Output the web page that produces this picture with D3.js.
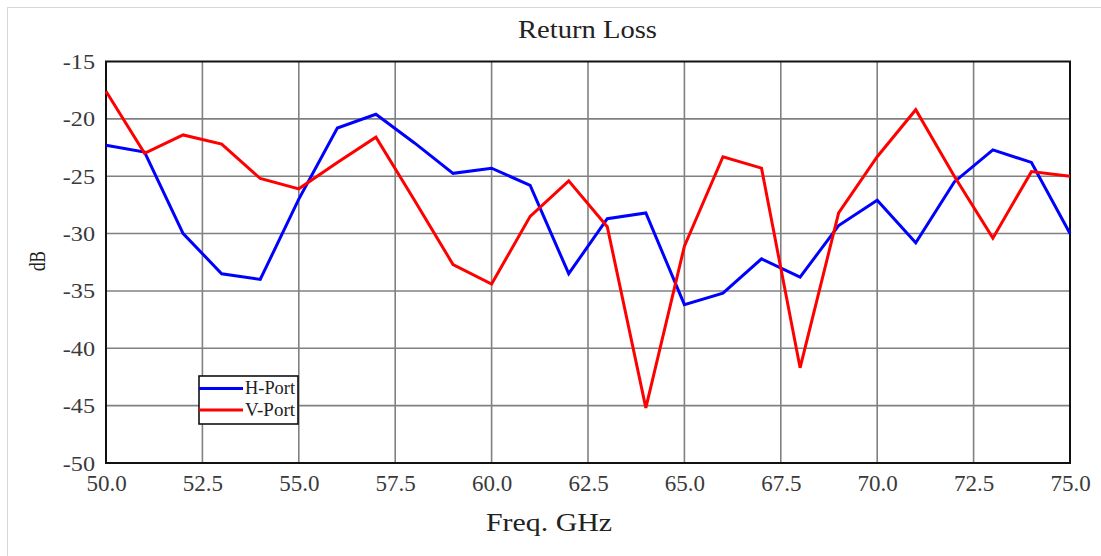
<!DOCTYPE html>
<html><head><meta charset="utf-8">
<script src="https://cdn.jsdelivr.net/npm/d3@7"></script>
<style>body{margin:0;background:#fff}svg{display:block}</style>
</head><body>
<svg id="c" width="1101" height="556"></svg>
<script>
const freqs = [50,51,52,53,54,55,56,57,58,59,60,61,62,63,64,65,66,67,68,69,70,71,72,73,74,75];
const hPort = [-22.3,-22.9,-30.0,-33.5,-34.0,-27.0,-20.8,-19.6,-22.1,-24.75,-24.3,-25.8,-33.5,-28.7,-28.2,-36.2,-35.2,-32.2,-33.8,-29.3,-27.1,-30.8,-25.5,-22.7,-23.8,-30.0];
const vPort = [-17.6,-23.0,-21.4,-22.2,-25.2,-26.1,-23.8,-21.6,-27.1,-32.7,-34.4,-28.5,-25.4,-29.4,-45.2,-31.1,-23.3,-24.3,-41.7,-28.2,-23.3,-19.2,-25.0,-30.4,-24.6,-25.0];
const xTicks = [50,52.5,55,57.5,60,62.5,65,67.5,70,72.5,75];
const yTicks = [-15,-20,-25,-30,-35,-40,-45,-50];
const seriesNames = ["H-Port","V-Port"];
const seriesColors = ["#0000ff","#ff0000"];

const svg = d3.select("#c");
const L=106, R=1070, T=61.5, B=463;
const x = d3.scaleLinear().domain([50,75]).range([L,R]);
const y = d3.scaleLinear().domain([-50,-15]).range([B,T]);
const font = "'Liberation Serif','Times New Roman',serif";

svg.append("rect").attr("x",7.5).attr("y",7.5).attr("width",1110).attr("height",560)
  .attr("fill","none").attr("stroke","#d8d8d8").attr("stroke-width",1);

// grid
svg.append("g").selectAll("line").data(xTicks.slice(1,-1)).join("line")
  .attr("x1",d=>x(d)).attr("x2",d=>x(d)).attr("y1",T).attr("y2",B)
  .attr("stroke","#808080").attr("stroke-width",1.6);
svg.append("g").selectAll("line").data(yTicks.slice(1,-1)).join("line")
  .attr("y1",d=>y(d)).attr("y2",d=>y(d)).attr("x1",L).attr("x2",R)
  .attr("stroke","#808080").attr("stroke-width",1.6);

// axes labels via d3 axes
const xAxis = svg.append("g").attr("transform",`translate(0,${B})`)
  .call(d3.axisBottom(x).tickValues(xTicks).tickFormat(d3.format(".1f")).tickSize(0));
const yAxis = svg.append("g").attr("transform",`translate(${L},0)`)
  .call(d3.axisLeft(y).tickValues(yTicks).tickFormat(d=>String(d)).tickSize(0));
[xAxis,yAxis].forEach(a=>{
  a.select(".domain").remove();
  a.attr("font-family",font);
  a.selectAll("text").attr("font-family",font).attr("fill","#3a3a3a");
});
xAxis.selectAll("text").attr("y",28).attr("dy",null).attr("font-size",23);
yAxis.selectAll("text").attr("x",-11).attr("dy",null).attr("y",7).attr("font-size",22)
  .each(function(){ const w=this.getComputedTextLength(); d3.select(this).attr("textLength",w*1.1).attr("lengthAdjust","spacingAndGlyphs"); });

// frame
svg.append("rect").attr("x",L).attr("y",T).attr("width",R-L).attr("height",B-T)
  .attr("fill","none").attr("stroke","#111").attr("stroke-width",2);

// lines
const line = d3.line().x((d,i)=>x(freqs[i])).y(d=>y(d));
[hPort,vPort].forEach((s,k)=>{
  svg.append("path").datum(s).attr("d",line).attr("fill","none")
    .attr("stroke",seriesColors[k]).attr("stroke-width",3).attr("stroke-linejoin","miter");
});

// titles
svg.append("text").attr("x",587.5).attr("y",38).attr("text-anchor","middle")
  .attr("font-family",font).attr("font-size",25).attr("fill","#222")
  .attr("textLength",139).attr("lengthAdjust","spacingAndGlyphs").text("Return Loss");
svg.append("text").attr("x",549).attr("y",531).attr("text-anchor","middle")
  .attr("font-family",font).attr("font-size",25).attr("fill","#222")
  .attr("textLength",126).attr("lengthAdjust","spacingAndGlyphs").text("Freq. GHz");
svg.append("text").attr("transform","translate(45,261) rotate(-90)").attr("text-anchor","middle")
  .attr("font-family",font).attr("font-size",24).attr("fill","#222")
  .attr("textLength",20).attr("lengthAdjust","spacingAndGlyphs").text("dB");

// legend
const lg = svg.append("g");
lg.append("rect").attr("x",199).attr("y",376).attr("width",99).attr("height",48)
  .attr("fill","#fff").attr("stroke","#111").attr("stroke-width",1.6);
seriesNames.forEach((n,i)=>{
  const yy = 388.5 + i*21.5;
  lg.append("line").attr("x1",199).attr("x2",243).attr("y1",yy).attr("y2",yy)
    .attr("stroke",seriesColors[i]).attr("stroke-width",3);
  lg.append("text").attr("x",245).attr("y",yy+5.5).attr("font-family",font).attr("font-size",18)
    .attr("fill","#222").attr("textLength",50).attr("lengthAdjust","spacingAndGlyphs").text(n);
});
</script>
</body></html>
